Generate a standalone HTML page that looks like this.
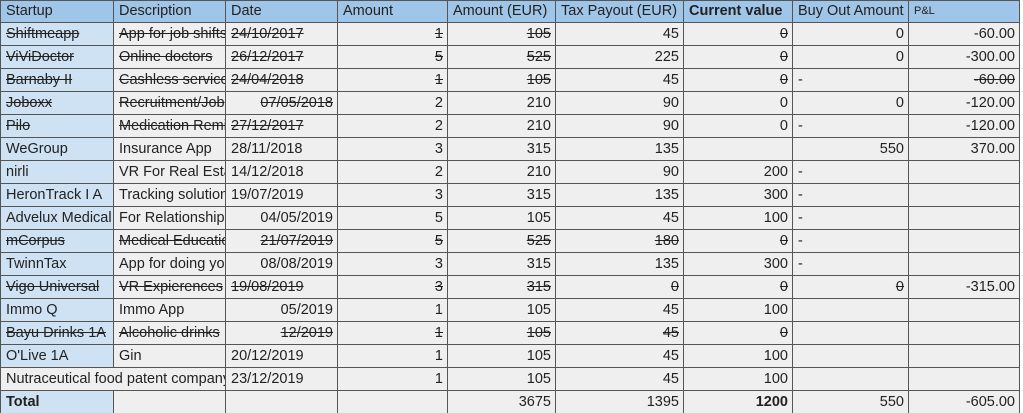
<!DOCTYPE html>
<html><head><meta charset="utf-8"><style>
html,body{margin:0;padding:0;background:#fff;width:1023px;height:413px;overflow:hidden}
table{border-collapse:collapse;table-layout:fixed;width:1019px;font-family:"Liberation Sans",Arial,sans-serif;font-size:14.5px;color:#222}
td{border:1px solid #555;height:23px;padding:0 4px 0 5px;white-space:nowrap;overflow:hidden;background:#efefef;box-sizing:border-box;line-height:21px}
tr{height:23px}
tr.h{height:22px}
tr td:first-child{background:#cfe2f3}
tr.h td,tr.h td:first-child{background:#9fc5e8;height:22px;font-size:14.5px}
.r{text-align:right}
.s{text-decoration:line-through}
.b{font-weight:bold}
tr.h td.sm{font-size:11px}
</style></head><body>
<table>
<colgroup><col style="width:113px"><col style="width:112px"><col style="width:112px"><col style="width:110px"><col style="width:108px"><col style="width:128px"><col style="width:109px"><col style="width:116px"><col style="width:111px"></colgroup>
<tr class="h"><td>Startup</td><td>Description</td><td>Date</td><td>Amount</td><td>Amount (EUR)</td><td>Tax Payout (EUR)</td><td class="b">Current value</td><td>Buy Out Amount</td><td class="sm">P&amp;L</td></tr>
<tr><td class="s">Shiftmeapp</td><td class="s">App for job shifts</td><td class="s">24/10/2017</td><td class="r s">1</td><td class="r s">105</td><td class="r">45</td><td class="r s">0</td><td class="r">0</td><td class="r">-60.00</td></tr>
<tr><td class="s">ViViDoctor</td><td class="s">Online doctors</td><td class="s">26/12/2017</td><td class="r s">5</td><td class="r s">525</td><td class="r">225</td><td class="r s">0</td><td class="r">0</td><td class="r">-300.00</td></tr>
<tr><td class="s">Barnaby II</td><td class="s">Cashless services</td><td class="s">24/04/2018</td><td class="r s">1</td><td class="r s">105</td><td class="r">45</td><td class="r s">0</td><td>-</td><td class="r s">-60.00</td></tr>
<tr><td class="s">Joboxx</td><td class="s">Recruitment/Job</td><td class="r s">07/05/2018</td><td class="r">2</td><td class="r">210</td><td class="r">90</td><td class="r">0</td><td class="r">0</td><td class="r">-120.00</td></tr>
<tr><td class="s">Pilo</td><td class="s">Medication Reminder</td><td class="s">27/12/2017</td><td class="r">2</td><td class="r">210</td><td class="r">90</td><td class="r">0</td><td>-</td><td class="r">-120.00</td></tr>
<tr><td>WeGroup</td><td>Insurance App</td><td>28/11/2018</td><td class="r">3</td><td class="r">315</td><td class="r">135</td><td></td><td class="r">550</td><td class="r">370.00</td></tr>
<tr><td>nirli</td><td>VR For Real Estate</td><td>14/12/2018</td><td class="r">2</td><td class="r">210</td><td class="r">90</td><td class="r">200</td><td>-</td><td></td></tr>
<tr><td>HeronTrack I A</td><td>Tracking solutions</td><td>19/07/2019</td><td class="r">3</td><td class="r">315</td><td class="r">135</td><td class="r">300</td><td>-</td><td></td></tr>
<tr><td>Advelux Medical</td><td>For Relationships</td><td class="r">04/05/2019</td><td class="r">5</td><td class="r">105</td><td class="r">45</td><td class="r">100</td><td>-</td><td></td></tr>
<tr><td class="s">mCorpus</td><td class="s">Medical Education</td><td class="r s">21/07/2019</td><td class="r s">5</td><td class="r s">525</td><td class="r s">180</td><td class="r s">0</td><td>-</td><td></td></tr>
<tr><td>TwinnTax</td><td>App for doing your</td><td class="r">08/08/2019</td><td class="r">3</td><td class="r">315</td><td class="r">135</td><td class="r">300</td><td>-</td><td></td></tr>
<tr><td class="s">Vigo Universal</td><td class="s">VR Expierences</td><td class="s">19/08/2019</td><td class="r s">3</td><td class="r s">315</td><td class="r s">0</td><td class="r s">0</td><td class="r s">0</td><td class="r">-315.00</td></tr>
<tr><td>Immo Q</td><td>Immo App</td><td class="r">05/2019</td><td class="r">1</td><td class="r">105</td><td class="r">45</td><td class="r">100</td><td></td><td></td></tr>
<tr><td class="s">Bayu Drinks 1A</td><td class="s">Alcoholic drinks</td><td class="r s">12/2019</td><td class="r s">1</td><td class="r s">105</td><td class="r s">45</td><td class="r s">0</td><td></td><td></td></tr>
<tr><td>O'Live 1A</td><td>Gin</td><td>20/12/2019</td><td class="r">1</td><td class="r">105</td><td class="r">45</td><td class="r">100</td><td></td><td></td></tr>
<tr><td colspan="2" style="background:#efefef">Nutraceutical food patent company</td><td>23/12/2019</td><td class="r">1</td><td class="r">105</td><td class="r">45</td><td class="r">100</td><td></td><td></td></tr>
<tr><td class="b">Total</td><td></td><td></td><td></td><td class="r">3675</td><td class="r">1395</td><td class="r b">1200</td><td class="r">550</td><td class="r">-605.00</td></tr>
</table>
</body></html>
